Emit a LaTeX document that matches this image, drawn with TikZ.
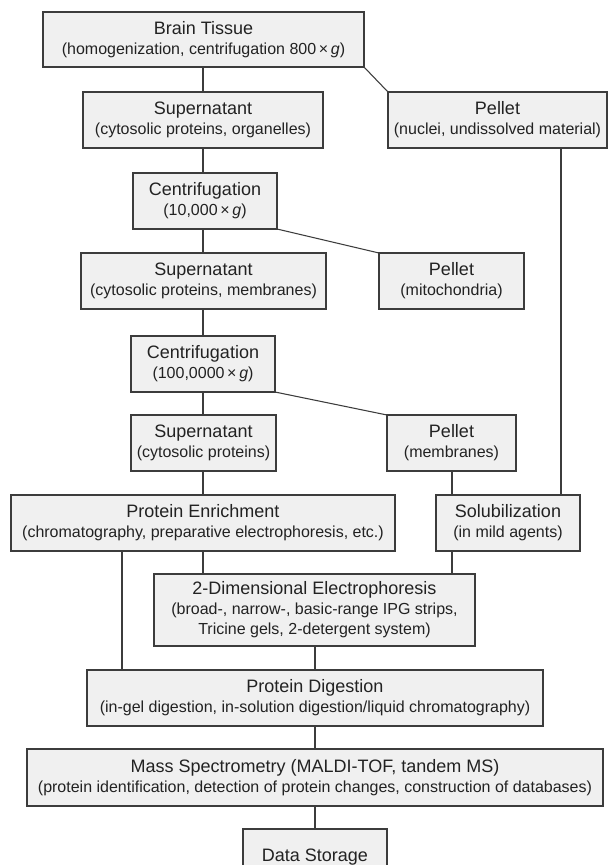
\documentclass[tikz,border=0pt]{standalone}
\usepackage{fontspec}
\setmainfont{Liberation Sans}
\definecolor{boxfill}{HTML}{F0F0F0}
\definecolor{edge}{HTML}{3C3C3C}
\definecolor{ink}{HTML}{222222}
\newcommand\ttl[1]{{\fontsize{13.5}{15}\selectfont #1}}
\newcommand\bx[6]{\node[box, minimum width={0.75pt*(#4-#2)}, minimum height={0.75pt*(#5-#3)}] (#1) at ({(#2+#4)/2},{(#3+#5)/2}) {#6};}
\begin{document}
\begin{tikzpicture}[x=0.75pt,y=-0.75pt,
  box/.style={draw=edge, line width=0.9pt, fill=boxfill, text=ink, inner sep=0pt, outer sep=0pt, align=center, font=\fontsize{12}{15}\selectfont},
  link/.style={draw=edge, line width=0.8pt}]
\useasboundingbox (0,0) rectangle (609,865);
\clip (0,0) rectangle (609,865);
\coordinate (colA) at (203,0);
\coordinate (colB) at (122,0);
\coordinate (colC) at (315,0);
\coordinate (colD) at (452,0);
\coordinate (colE) at (561,0);
% boxes
\bx{brain}{43}{12}{364}{67}{\ttl{Brain Tissue}\\(homogenization, centrifugation 800\,×\,\textit{g})}
\bx{supA}{83}{92}{323}{148}{\ttl{Supernatant}\\(cytosolic proteins, organelles)}
\bx{pelA}{388}{92}{607}{148}{\ttl{Pellet}\\(nuclei, undissolved material)}
\bx{cenA}{133}{173}{277}{229}{\ttl{Centrifugation}\\(10,000\,×\,\textit{g})}
\bx{supB}{81}{253}{326}{309}{\ttl{Supernatant}\\(cytosolic proteins, membranes)}
\bx{pelB}{379}{253}{524}{309}{\ttl{Pellet}\\(mitochondria)}
\bx{cenB}{131}{336}{275}{392}{\ttl{Centrifugation}\\(100,0000\,×\,\textit{g})}
\bx{supC}{131}{415}{276}{471}{\ttl{Supernatant}\\(cytosolic proteins)}
\bx{pelC}{387}{415}{516}{471}{\ttl{Pellet}\\(membranes)}
\bx{enr}{11}{495}{395}{551}{\ttl{Protein Enrichment}\\(chromatography, preparative electrophoresis, etc.)}
\bx{sol}{436}{495}{580}{551}{\ttl{Solubilization}\\(in mild agents)}
\bx{tde}{154}{574}{475}{646}{\ttl{2-Dimensional Electrophoresis}\\(broad-, narrow-, basic-range IPG strips,\\Tricine gels, 2-detergent system)}
\bx{dig}{87}{670}{543}{726}{\ttl{Protein Digestion}\\(in-gel digestion, in-solution digestion/liquid chromatography)}
\bx{ms}{27}{749}{603}{806}{\ttl{Mass Spectrometry (MALDI-TOF, tandem MS)}\\(protein identification, detection of protein changes, construction of databases)}
\bx{ds}{243}{829}{387}{885}{\ttl{Data Storage}}
% connectors
\draw[link] (colA |- brain.south) -- (colA |- supA.north);
\draw[link] (brain.south east) -- (pelA.north west);
\draw[link] (colA |- supA.south) -- (colA |- cenA.north);
\draw[link] (cenA.south east) -- (pelB.north west);
\draw[link] (colA |- cenA.south) -- (colA |- supB.north);
\draw[link] (colA |- supB.south) -- (colA |- cenB.north);
\draw[link] (cenB.south east) -- (pelC.north west);
\draw[link] (colA |- cenB.south) -- (colA |- supC.north);
\draw[link] (colA |- supC.south) -- (colA |- enr.north);
\draw[link] (colE |- pelA.south) -- (colE |- sol.north);
\draw[link] (colD |- pelC.south) -- (colD |- sol.north);
\draw[link] (colA |- enr.south) -- (colA |- tde.north);
\draw[link] (colB |- enr.south) -- (colB |- dig.north);
\draw[link] (colD |- sol.south) -- (colD |- tde.north);
\draw[link] (colC |- tde.south) -- (colC |- dig.north);
\draw[link] (colC |- dig.south) -- (colC |- ms.north);
\draw[link] (colC |- ms.south) -- (colC |- ds.north);
\end{tikzpicture}
\end{document}
